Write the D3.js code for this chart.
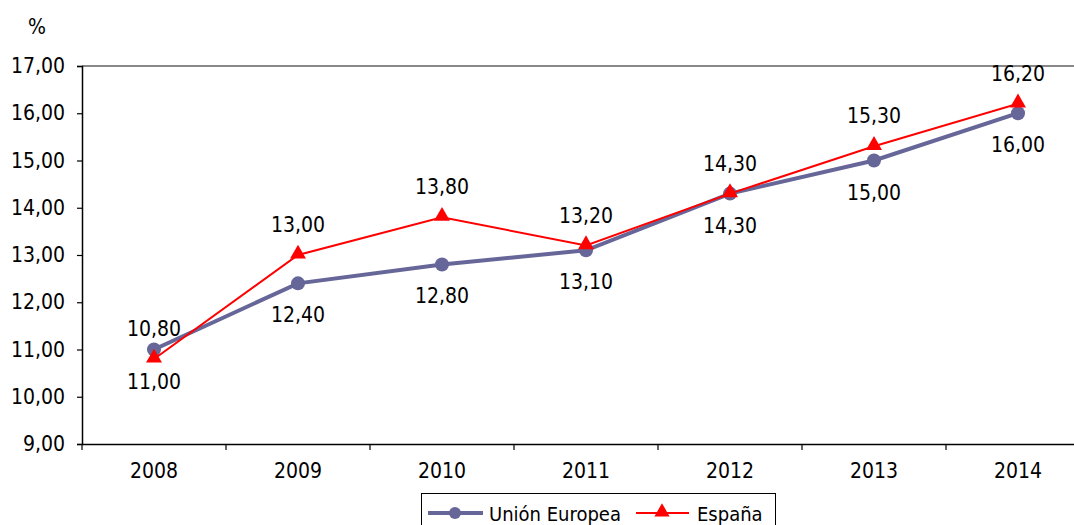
<!DOCTYPE html>
<html><head><meta charset="utf-8">
<script src="https://cdn.jsdelivr.net/npm/d3@7"></script>
<style>body{margin:0;background:#fff}svg{display:block;font-family:"DejaVu Sans Condensed","DejaVu Sans",sans-serif;font-stretch:condensed}</style>
</head><body>
<svg id="c" width="1074" height="525"></svg>
<script>
const years = ["2008","2009","2010","2011","2012","2013","2014"];
const ue = [11.0, 12.4, 12.8, 13.1, 14.3, 15.0, 16.0];
const es = [10.8, 13.0, 13.8, 13.2, 14.3, 15.3, 16.2];
const yTicks = [9,10,11,12,13,14,15,16,17];
const seriesNames = ["Unión Europea","España"];

const svg = d3.select("#c");
const L = 82, R = 1090, T = 66, B = 444;
const x = d3.scaleBand().domain(years).range([L, R]);
const y = d3.scaleLinear().domain([9,17]).range([B, T]);
const fmt = v => v.toFixed(2).replace(".", ",");
const fs = 21;
const ff = '"DejaVu Sans Condensed","DejaVu Sans",sans-serif';

// top border
svg.append("line").attr("x1",L).attr("x2",R).attr("y1",T).attr("y2",T).attr("stroke","#888").attr("stroke-width",2);

// y axis
const ya = svg.append("g").attr("transform",`translate(${L},0)`)
  .call(d3.axisLeft(y).tickValues(yTicks).tickFormat(fmt).tickSize(5).tickPadding(12));
ya.select(".domain").attr("stroke","#000").attr("stroke-width",1.5);
ya.selectAll(".tick line").attr("stroke","#000").attr("stroke-width",1.2);
ya.selectAll("text").attr("font-size",fs).attr("font-family",ff).attr("fill","#000");

// x axis
const xa = svg.append("g").attr("transform",`translate(0,${B})`)
  .call(d3.axisBottom(x).tickSize(0).tickPadding(19));
xa.select(".domain").attr("stroke","#000").attr("stroke-width",1.5);
xa.selectAll("text").attr("font-size",fs).attr("font-family",ff).attr("fill","#000");
// category boundary ticks
const bounds = years.map(d => x(d)).concat([R]);
svg.append("g").selectAll("line").data(bounds).join("line")
  .attr("x1",d=>d).attr("x2",d=>d).attr("y1",B).attr("y2",B+6)
  .attr("stroke","#000").attr("stroke-width",1.2);

// % label
svg.append("text").attr("x",37).attr("y",34).attr("text-anchor","middle")
  .attr("font-size",fs).text("%");

const cx = d => x(d) + x.bandwidth()/2;

// UE line
svg.append("path").datum(ue)
  .attr("d", d3.line().x((d,i)=>cx(years[i])).y(d=>y(d)))
  .attr("fill","none").attr("stroke","#666699").attr("stroke-width",4);
svg.append("g").selectAll("circle").data(ue).join("circle")
  .attr("cx",(d,i)=>cx(years[i])).attr("cy",d=>y(d)).attr("r",7).attr("fill","#666699");

// España line
svg.append("path").datum(es)
  .attr("d", d3.line().x((d,i)=>cx(years[i])).y(d=>y(d)))
  .attr("fill","none").attr("stroke","#ff0000").attr("stroke-width",2);
const tri = d3.symbol().type(d3.symbolTriangle).size(110);
svg.append("g").selectAll("path").data(es).join("path")
  .attr("transform",(d,i)=>`translate(${cx(years[i])},${y(d)-1})`)
  .attr("d",tri).attr("fill","#ff0000");

// labels
svg.append("g").selectAll("text").data(es).join("text")
  .attr("x",(d,i)=>cx(years[i])).attr("y",d=>y(d)-23)
  .attr("text-anchor","middle").attr("font-size",fs).attr("fill","#000").text(fmt);
svg.append("g").selectAll("text").data(ue).join("text")
  .attr("x",(d,i)=>cx(years[i])).attr("y",d=>y(d)+39)
  .attr("text-anchor","middle").attr("font-size",fs).attr("fill","#000").text(fmt);

// legend
const lg = svg.append("g");
lg.append("rect").attr("x",421.5).attr("y",493.5).attr("width",354).attr("height",40)
  .attr("fill","#fff").attr("stroke","#000").attr("stroke-width",1);
lg.append("line").attr("x1",428).attr("x2",483).attr("y1",513).attr("y2",513).attr("stroke","#666699").attr("stroke-width",4);
lg.append("circle").attr("cx",455).attr("cy",513).attr("r",6).attr("fill","#666699");
lg.append("text").attr("x",489).attr("y",521).attr("font-size",20).text(seriesNames[0]);
lg.append("line").attr("x1",636).attr("x2",689).attr("y1",513).attr("y2",513).attr("stroke","#ff0000").attr("stroke-width",2);
lg.append("path").attr("transform","translate(662,512)").attr("d",d3.symbol().type(d3.symbolTriangle).size(100)).attr("fill","#ff0000");
lg.append("text").attr("x",697).attr("y",521).attr("font-size",20).text(seriesNames[1]);
</script>
</body></html>
